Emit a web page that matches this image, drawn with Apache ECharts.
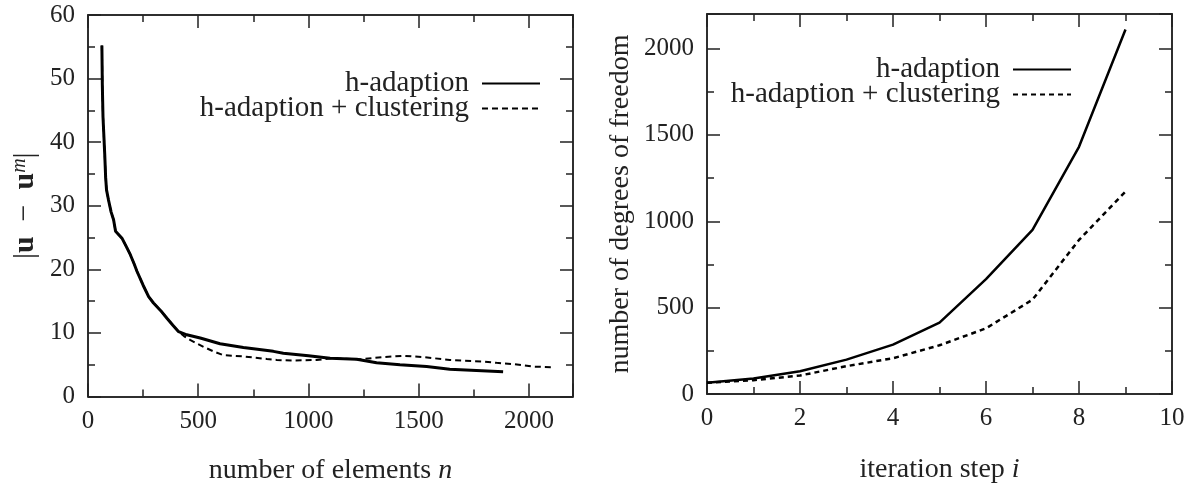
<!DOCTYPE html>
<html>
<head>
<meta charset="utf-8">
<script src="https://cdn.jsdelivr.net/npm/echarts@6.0.0/dist/echarts.min.js"></script>
<style>html,body{margin:0;padding:0;background:#fff;}#chart{width:1192px;height:483px;}</style>
</head>
<body>
<div id="chart"></div>
<script>
// ---- Left panel: error vs number of elements ----
const leftN_h   = [63, 65, 68, 72, 76, 80, 84, 93, 105, 116, 125, 131, 154, 175, 192, 210, 222, 250, 275, 297, 330, 358, 385, 411, 448, 509, 599, 705, 841, 886, 1000, 1098, 1219, 1309, 1415, 1536, 1641, 1762, 1883];
const leftErr_h = [55.2, 49, 44, 41, 38, 34.5, 32.5, 30.9, 29, 27.8, 26, 25.7, 24.9, 23.5, 22.3, 20.8, 19.7, 17.5, 15.7, 14.7, 13.5, 12.3, 11.2, 10.2, 9.7, 9.2, 8.3, 7.7, 7.1, 6.8, 6.4, 6.0, 5.85, 5.3, 5.0, 4.7, 4.3, 4.1, 3.9];
const leftN_c   = [63, 65, 68, 72, 76, 80, 84, 93, 105, 116, 125, 131, 154, 175, 192, 210, 222, 250, 275, 297, 330, 358, 385, 411, 435, 463, 524, 569, 614, 705, 811, 856, 931, 1037, 1105, 1234, 1339, 1430, 1520, 1641, 1792, 1853, 1928, 2019, 2117];
const leftErr_c = [55.2, 49, 44, 41, 38, 34.5, 32.5, 30.9, 29, 27.8, 26, 25.7, 24.9, 23.5, 22.3, 20.8, 19.7, 17.5, 15.7, 14.7, 13.5, 12.3, 11.2, 10.2, 9.5, 8.9, 7.8, 7.1, 6.5, 6.3, 5.9, 5.75, 5.65, 5.75, 6.0, 5.85, 6.2, 6.4, 6.2, 5.75, 5.5, 5.3, 5.1, 4.7, 4.6];

// ---- Right panel: degrees of freedom vs iteration step ----
const steps = [0, 1, 2, 3, 4, 5, 6, 7, 8, 9];
const dofH  = [65, 90, 132, 199, 286, 413, 665, 950, 1431, 2110];
const dofC  = [65, 80, 107, 161, 207, 282, 380, 546, 892, 1172];

// ---- Tick labels ----
const leftXLabels  = [0, 500, 1000, 1500, 2000];
const leftYLabels  = [0, 10, 20, 30, 40, 50, 60];
const rightXLabels = [0, 2, 4, 6, 8, 10];
const rightYLabels = [0, 500, 1000, 1500, 2000];

const seriesNames = ['h-adaption', 'h-adaption + clustering'];

const FONT = '"Liberation Serif", "Times New Roman", serif';
const INK = '#222';

function pairs(xs, ys) { return xs.map((x, i) => [x, ys[i]]); }

function axisSet(kind, gridIndex, min, max, minorStep, majorStep, labels, nameCfg) {
  const isX = kind === 'x';
  const pos = isX ? ['bottom', 'top'] : ['left', 'right'];
  const base = {
    type: 'value', gridIndex: gridIndex, min: min, max: max,
    axisLine: { show: true, onZero: false, lineStyle: { color: INK, width: 1.5 } },
    splitLine: { show: false },
    axisPointer: { show: false }
  };
  const out = [];
  pos.forEach((p, k) => {
    const major = Object.assign({}, base, {
      position: p, interval: majorStep,
      axisTick: { show: true, inside: true, length: 13, lineStyle: { color: INK, width: 1.5 } },
      axisLabel: { show: k === 0, margin: isX ? 12 : 13, color: INK, fontFamily: FONT, fontSize: 25,
        formatter: v => labels.indexOf(v) >= 0 ? String(v) : '' }
    });
    if (k === 0 && nameCfg) Object.assign(major, nameCfg);
    out.push(major);
    out.push(Object.assign({}, base, {
      position: p, interval: minorStep,
      axisTick: { show: true, inside: true, length: 7, lineStyle: { color: INK, width: 1.5 } },
      axisLabel: { show: false }
    }));
  });
  return out;
}

const nameStyle = { fontFamily: FONT, fontSize: 28, color: INK };

const xAxes = [].concat(
  axisSet('x', 0, 0, 2200, 250, 500, leftXLabels, {
    name: 'number of elements {i|n}', nameLocation: 'middle', nameGap: 60,
    nameTextStyle: Object.assign({}, nameStyle, { rich: { i: { fontFamily: FONT, fontSize: 28, fontStyle: 'italic', color: INK } } })
  }),
  axisSet('x', 1, 0, 10, 1, 2, rightXLabels, {
    name: 'iteration step {i|i}', nameLocation: 'middle', nameGap: 62,
    nameTextStyle: Object.assign({}, nameStyle, { rich: { i: { fontFamily: FONT, fontSize: 28, fontStyle: 'italic', color: INK } } })
  })
);
const yAxes = [].concat(
  axisSet('y', 0, 0, 60, 5, 10, leftYLabels, {
    name: '|{b|u}\u2002−\u2002{b|u}{s|m}|', nameLocation: 'middle', nameGap: 48,
    nameTextStyle: Object.assign({}, nameStyle, { fontSize: 30, rich: {
      b: { fontFamily: FONT, fontSize: 30, fontWeight: 'bold', color: INK },
      s: { fontFamily: FONT, fontSize: 20, fontStyle: 'italic', color: INK, verticalAlign: 'top' }
    } })
  }),
  axisSet('y', 1, 0, 2200, 250, 500, rightYLabels, {
    name: 'number of degrees of freedom', nameLocation: 'middle', nameGap: 72,
    nameTextStyle: nameStyle
  })
);

function legendFor(key, right, top) {
  return {
    data: [key], right: right, top: top, padding: 0, orient: 'horizontal', align: 'right',
    itemWidth: 58, itemHeight: 14, selectedMode: false,
    itemStyle: { opacity: 0, borderWidth: 0 },
    formatter: n => n.slice(2),
    textStyle: { fontFamily: FONT, fontSize: 29, color: INK, padding: [0, 8, 0, 0] }
  };
}

const option = {
  animation: false,
  backgroundColor: '#fff',
  grid: [
    { left: 88, right: 619, top: 15, bottom: 86.5, outerBoundsMode: 'none', containLabel: false },
    { left: 707, right: 20, top: 14, bottom: 89, outerBoundsMode: 'none', containLabel: false }
  ],
  xAxis: xAxes,
  yAxis: yAxes,
  legend: [
    legendFor('L:' + seriesNames[0], 651, 69),
    legendFor('M:' + seriesNames[1], 651, 94),
    legendFor('R:' + seriesNames[0], 120, 55),
    legendFor('S:' + seriesNames[1], 120, 80)
  ],
  series: [
    { name: 'L:' + seriesNames[0], type: 'line', xAxisIndex: 0, yAxisIndex: 0, symbol: 'none',
      itemStyle: { color: '#000' },
      data: pairs(leftN_h, leftErr_h), lineStyle: { color: '#000', width: 3 }, z: 3 },
    { name: 'M:' + seriesNames[1], type: 'line', xAxisIndex: 0, yAxisIndex: 0, symbol: 'none',
      itemStyle: { color: '#000' },
      data: pairs(leftN_c, leftErr_c), lineStyle: { color: '#000', width: 2, type: [6, 4] }, z: 2 },
    { name: 'R:' + seriesNames[0], type: 'line', xAxisIndex: 4, yAxisIndex: 4, symbol: 'none',
      itemStyle: { color: '#000' },
      data: pairs(steps, dofH), lineStyle: { color: '#000', width: 2.5 }, z: 3 },
    { name: 'S:' + seriesNames[1], type: 'line', xAxisIndex: 4, yAxisIndex: 4, symbol: 'none',
      itemStyle: { color: '#000' },
      data: pairs(steps, dofC), lineStyle: { color: '#000', width: 2.5, type: [5, 4] }, z: 2 }
  ]
};

const chart = echarts.init(document.getElementById('chart'), null, { renderer: 'canvas' });
chart.setOption(option);
</script>
</body>
</html>
